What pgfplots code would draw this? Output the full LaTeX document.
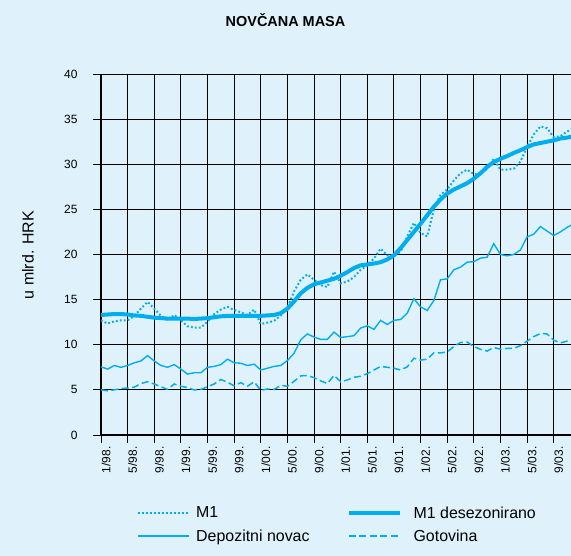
\documentclass[border=0pt]{standalone}
\usepackage{fontspec}
\setmainfont{Liberation Sans}
\usepackage{pgfplots}
\usepackage{pgfplotstable}
\pgfplotsset{compat=1.18}
\definecolor{bg}{RGB}{223,242,252}
\definecolor{cy}{RGB}{0,174,239}
\pgfplotsset{
  shortleg/.style={legend image code/.code={\draw[##1] (0bp,0bp) -- (51bp,0bp); \path (55bp,0bp);}},
  longleg/.style={legend image code/.code={\draw[##1] (0bp,0bp) -- (51bp,0bp); \path (61bp,0bp);}},
}

\pgfplotstableread{
m m1 m1d dep got
0 12.7 13.3 7.55 5.0
1 12.35 13.35 7.3 4.9
2 12.6 13.4 7.7 5.0
3 12.7 13.4 7.5 5.15
4 12.7 13.35 7.7 5.2
5 13.2 13.25 8.0 5.3
6 14.0 13.2 8.2 5.7
7 14.75 13.1 8.8 5.9
8 14.0 13.0 8.2 5.65
9 13.2 12.95 7.7 5.35
10 12.7 12.9 7.5 5.05
11 13.3 12.9 7.8 5.65
12 12.7 12.9 7.3 5.4
13 12.05 12.9 6.75 5.25
14 11.9 12.85 6.9 5.0
15 11.9 12.9 6.9 5.05
16 12.55 12.95 7.5 5.35
17 13.4 13.05 7.6 5.65
18 13.9 13.15 7.8 6.15
19 14.2 13.2 8.4 5.85
20 13.85 13.2 8.0 5.45
21 13.6 13.2 7.95 5.8
22 13.3 13.2 7.7 5.4
23 13.9 13.2 7.85 5.9
24 12.3 13.2 7.2 4.95
25 12.45 13.25 7.4 5.1
26 12.65 13.3 7.6 5.05
27 13.25 13.5 7.7 5.5
28 14.1 14.0 8.25 5.4
29 15.9 14.8 9.05 5.95
30 17.2 15.7 10.55 6.55
31 17.8 16.3 11.2 6.6
32 17.2 16.7 10.85 6.35
33 16.6 16.9 10.6 6.0
34 16.4 17.1 10.6 5.7
35 18.1 17.3 11.4 6.6
36 16.8 17.65 10.8 5.9
37 17.0 18.05 10.9 6.1
38 17.5 18.5 11.0 6.4
39 18.3 18.8 11.85 6.5
40 18.8 18.9 12.1 6.8
41 19.55 19.0 11.7 7.2
42 20.65 19.15 12.7 7.6
43 19.9 19.45 12.25 7.5
44 19.9 19.9 12.7 7.4
45 20.3 20.7 12.8 7.2
46 22.0 21.6 13.5 7.55
47 23.5 22.5 15.1 8.5
48 22.4 23.4 14.2 8.3
49 22.0 24.35 13.8 8.4
50 25.0 25.3 14.9 9.1
51 26.6 26.1 17.2 9.1
52 27.2 26.75 17.3 9.2
53 28.2 27.2 18.3 9.8
54 29.0 27.55 18.6 10.25
55 29.4 27.9 19.15 10.3
56 28.9 28.4 19.2 9.8
57 28.9 29.0 19.6 9.5
58 29.5 29.7 19.7 9.3
59 30.6 30.25 21.2 9.7
60 29.4 30.6 20.0 9.5
61 29.4 30.9 19.85 9.6
62 29.5 31.25 20.0 9.6
63 30.3 31.55 20.5 9.9
64 31.9 31.9 21.95 10.4
65 33.3 32.2 22.25 10.9
66 34.2 32.35 23.1 11.25
67 34.0 32.5 22.6 11.2
68 33.0 32.65 22.1 10.5
69 33.1 32.85 22.5 10.2
70 33.6 32.95 23.0 10.4
71 34.0 33.1 23.4 10.5
}\data

\begin{document}
\begin{tikzpicture}
\fill[bg] (0bp,0bp) rectangle (571bp,556bp);
\useasboundingbox (0bp,0bp) rectangle (571bp,556bp);
\node[font=\bfseries\fontsize{14.5}{17}\selectfont] at (285.5bp,536bp) {NOVČANA MASA};
\node[rotate=90,font=\fontsize{16}{19}\selectfont] at (28bp,301bp) {u mlrd. HRK};
\begin{axis}[
  at={(101bp,121bp)}, anchor=south west,
  scale only axis, width=470bp, height=361bp,
  xmin=0, xmax=70.6, ymin=0, ymax=40,
  axis lines*=left,
  axis line style={line width=1.6bp, black},
  xtick={0,4,...,68},
  xticklabels={1/98.,5/98.,9/98.,1/99.,5/99.,9/99.,1/00.,5/00.,9/00.,1/01.,5/01.,9/01.,1/02.,5/02.,9/02.,1/03.,5/03.,9/03.},
  ytick={0,5,...,40},
  grid=major,
  major grid style={line width=0.9bp, black},
  tick align=outside, major tick length=8bp,
  tick style={line width=0.9bp, black},
  /pgf/number format/assume math mode=true,
  xticklabel style={rotate=90, anchor=east, font=\fontsize{12}{14}\selectfont, yshift=-5bp},
  yticklabel style={font=\fontsize{12}{14}\selectfont, xshift=-12bp},
  legend columns=2,
  legend cell align=left,
  shortleg,
  legend style={at={(0.0766,-0.192)}, anchor=north west, draw=none, fill=none,
    inner sep=0pt, font=\fontsize{16}{19}\selectfont, row sep=6bp,
    /tikz/every even column/.append style={column sep=35bp}},
]
\addplot[cy, line width=2bp, dash pattern=on 1.8bp off 2.2bp] table[x=m,y=m1] {\data};
\addlegendentry{M1}
\addplot[cy, line width=4bp, longleg] table[x=m,y=m1d] {\data};
\addlegendentry{M1 desezonirano}
\addplot[cy, line width=1.4bp] table[x=m,y=dep] {\data};
\addlegendentry{Depozitni novac}
\addplot[cy, line width=1.5bp, dash pattern=on 7bp off 3.5bp, longleg] table[x=m,y=got] {\data};
\addlegendentry{Gotovina}
\end{axis}
\end{tikzpicture}
\end{document}
